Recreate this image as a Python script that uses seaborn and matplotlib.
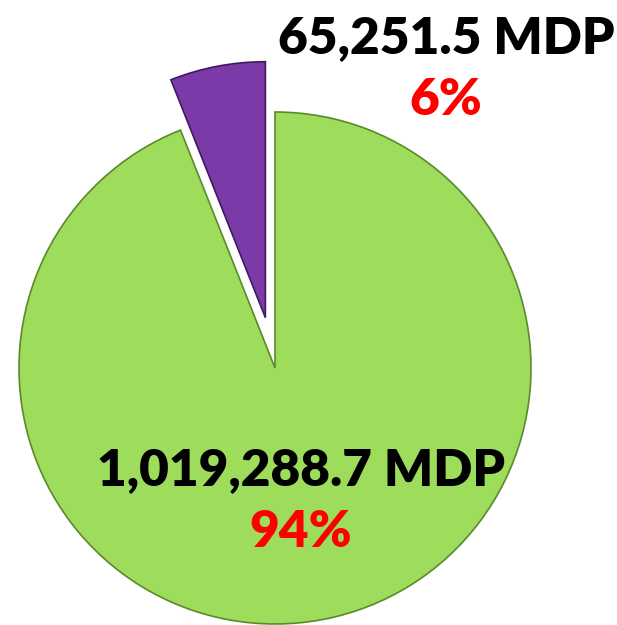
import matplotlib
matplotlib.use("Agg")
import matplotlib.pyplot as plt
import seaborn as sns

# values (MDP) and labels
categories = ["Otro", "Principal"]
values = [65251.5, 1019288.7]
amount_labels = ["65,251.5 MDP", "1,019,288.7 MDP"]
pct_labels = ["6%", "94%"]
colors = ["#7b3aa8", "#9edc5c"]
rims = ["#3f1a5e", "#5a8a2a"]

sns.set_theme(style="white")
plt.rcParams['font.family'] = ['Lato', 'DejaVu Sans']

fig = plt.figure(figsize=(6.17, 6.25), dpi=100)
ax = fig.add_axes([0, 0, 1, 1])

wedges, _ = ax.pie(values, colors=colors, startangle=90, explode=[0.2, 0.0],
                   radius=1.0, wedgeprops=dict(linewidth=0))
# darker rim for a bit of the bevel look
for w, rc in zip(wedges, rims):
    w.set_edgecolor(rc)
    w.set_linewidth(1.2)

ax.set_xlim(-275 / 256, (617 - 275) / 256)
ax.set_ylim(-(625 - 368) / 256, 368 / 256)
ax.set_aspect("equal")
ax.axis("off")

# labels
ax.text(0.668, 1.289, amount_labels[0], ha="center", va="center",
        fontsize=37, fontweight="heavy", color="black")
ax.text(0.668, 1.047, pct_labels[0], ha="center", va="center",
        fontsize=37, fontweight="heavy", color="red")
ax.text(0.10, -0.398, amount_labels[1], ha="center", va="center",
        fontsize=37, fontweight="heavy", color="black")
ax.text(0.10, -0.64, pct_labels[1], ha="center", va="center",
        fontsize=37, fontweight="heavy", color="red")

fig.savefig("out.png", dpi=100)
